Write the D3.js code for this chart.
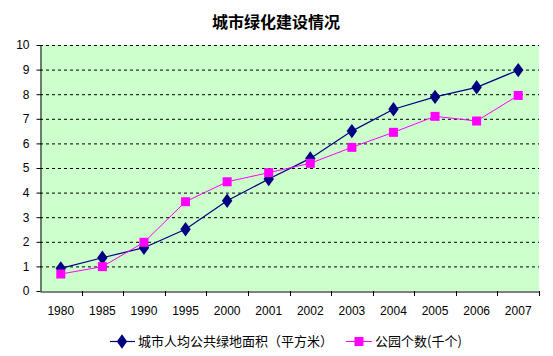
<!DOCTYPE html>
<html><head><meta charset="utf-8">
<script src="https://cdn.jsdelivr.net/npm/d3@7"></script>
<style>body{margin:0;background:#fff}text{font-family:"Noto Sans CJK SC","DejaVu Sans",sans-serif}</style>
</head><body>
<script>
const categories = ["1980","1985","1990","1995","2000","2001","2002","2003","2004","2005","2006","2007"];
const greenArea = [0.92,1.35,1.76,2.51,3.67,4.55,5.39,6.50,7.39,7.89,8.28,8.98];
const parks = [0.69,0.99,1.98,3.63,4.44,4.81,5.19,5.84,6.45,7.10,6.91,7.95];
const yTicks = [0,1,2,3,4,5,6,7,8,9,10];
const seriesNames = ["城市人均公共绿地面积（平方米）","公园个数(千个)"];
const title = "城市绿化建设情况";

const W=553,H=356;
const L=40,R=539,T=45,B=291;
const svg=d3.select("body").append("svg").attr("width",W).attr("height",H);
const x=d3.scaleBand().domain(categories).range([L,R]);
const y=d3.scaleLinear().domain([0,10]).range([B,T]);

svg.append("rect").attr("x",L).attr("y",T).attr("width",R-L).attr("height",B-T).attr("fill","#ccffcc");
svg.append("g").selectAll("line").data(yTicks.slice(1)).join("line")
 .attr("x1",L).attr("x2",R).attr("y1",d=>y(d)+0.5).attr("y2",d=>y(d)+0.5)
 .attr("stroke","#000").attr("stroke-dasharray","3,3");

const ya=svg.append("g").attr("transform",`translate(${L+0.5},0)`)
 .call(d3.axisLeft(y).tickValues(yTicks).tickSize(4).tickSizeOuter(0));
ya.select(".domain").attr("stroke","#000");
ya.selectAll("text").style("font-size","12px").style("font-family","'Liberation Sans', Arial, sans-serif").attr("x",-11).attr("fill","#000");

const xa=svg.append("g").attr("transform",`translate(0,${B+0.5})`)
 .call(d3.axisBottom(x).tickSize(0).tickSizeOuter(0));
xa.select(".domain").attr("stroke","#000");
xa.selectAll("text").style("font-size","12px").style("font-family","'Liberation Sans', Arial, sans-serif").attr("y",15).attr("fill","#000");
svg.append("g").selectAll("line").data(categories.slice(1).concat(["end"])).join("line")
 .attr("x1",(d,i)=>Math.round(L+x.step()*(i+1))+0.5).attr("x2",(d,i)=>Math.round(L+x.step()*(i+1))+0.5)
 .attr("y1",B).attr("y2",B+5).attr("stroke","#000");

const cx=d=>x(d)+x.bandwidth()/2;
const line=d3.line().x((d,i)=>cx(categories[i])).y(d=>y(d));
svg.append("path").datum(greenArea).attr("d",line).attr("fill","none").attr("stroke","#000080").attr("stroke-width",1.2);
svg.append("path").datum(parks).attr("d",line).attr("fill","none").attr("stroke","#ff00ff").attr("stroke-width",1);
const diamond=d3.symbol().type(d3.symbolDiamond).size(60);
svg.append("g").selectAll("path").data(greenArea).join("path")
 .attr("d",diamond).attr("transform",(d,i)=>`translate(${cx(categories[i])},${y(d)}) scale(1.25,1)`).attr("fill","#000080");
svg.append("g").selectAll("rect").data(parks).join("rect")
 .attr("x",(d,i)=>cx(categories[i])-4.5).attr("y",d=>y(d)-4.5).attr("width",9).attr("height",9).attr("fill","#ff00ff");

svg.append("text").attr("x",276).attr("y",28).attr("text-anchor","middle").attr("font-size","16px").attr("font-weight","bold").text(title);

const lg=svg.append("g");
lg.append("line").attr("x1",110).attr("x2",135).attr("y1",341.5).attr("y2",341.5).attr("stroke","#000080").attr("stroke-width",1.2);
lg.append("path").attr("d",diamond).attr("transform","translate(122,341.5) scale(1.25,1)").attr("fill","#000080");
lg.append("text").attr("x",138).attr("y",346).attr("font-size","13px").text(seriesNames[0]);
lg.append("line").attr("x1",346).attr("x2",372).attr("y1",341.5).attr("y2",341.5).attr("stroke","#ff00ff");
lg.append("rect").attr("x",354.5).attr("y",337).attr("width",9).attr("height",9).attr("fill","#ff00ff");
lg.append("text").attr("x",375).attr("y",346).attr("font-size","13px").text(seriesNames[1]);
</script>
</body></html>
